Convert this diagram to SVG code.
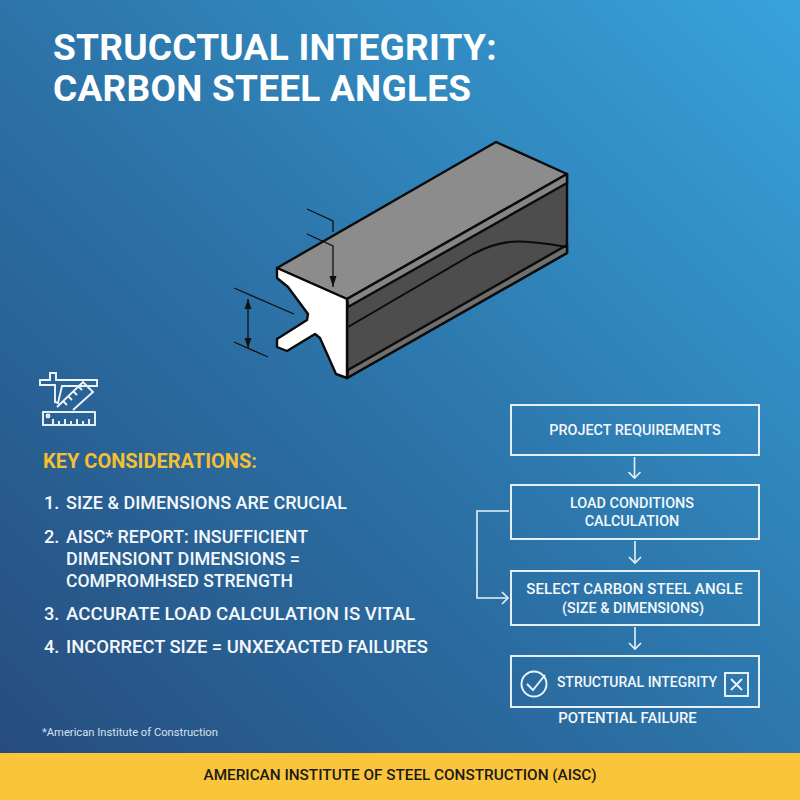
<svg xmlns="http://www.w3.org/2000/svg" width="800" height="800" viewBox="0 0 800 800">
<style>
text{font-family:Roboto,"Liberation Sans",sans-serif;font-weight:500;fill:#f4f8fb}
.t{font-size:37px;font-weight:700;letter-spacing:.25px;fill:#fff}
.k{font-size:18.2px}
.f{font-size:14.4px;text-anchor:middle}
.box{fill:none;stroke:#e4eff6;stroke-width:2}
.con{fill:none;stroke:#e8f1f7;stroke-width:1.6}
.b{stroke:#0b0b0b;stroke-width:2.4;stroke-linejoin:round}
.d{fill:none;stroke:#111;stroke-width:1.3}
.i{fill:none;stroke:#eef5fa;stroke-width:1.9}
</style>
<defs>
<linearGradient id="bg" gradientUnits="userSpaceOnUse" x1="0" y1="800" x2="800" y2="0">
<stop offset="0" stop-color="#264a7b"/><stop offset=".5" stop-color="#2c74a9"/><stop offset="1" stop-color="#38a3dc"/>
</linearGradient>
<marker id="a" viewBox="0 0 14 14" refX="12" refY="7" markerWidth="14" markerHeight="14" markerUnits="userSpaceOnUse" orient="auto"><path d="M6 1L12 7L6 13" fill="none" stroke="#e8f1f7" stroke-width="1.6"/></marker>
<marker id="k" viewBox="0 0 10 10" refX="10" refY="5" markerWidth="10" markerHeight="10" markerUnits="userSpaceOnUse" orient="auto"><path d="M0 1.500L10 5L0 8.500Z" fill="#111"/></marker>
<marker id="ks" viewBox="0 0 10 10" refX="0" refY="5" markerWidth="10" markerHeight="10" markerUnits="userSpaceOnUse" orient="auto"><path d="M10 1.500L0 5L10 8.500Z" fill="#111"/></marker>
</defs>
<rect width="800" height="800" fill="url(#bg)"/>
<text class="t" x="53" y="60">STRUCCTUAL INTEGRITY:</text>
<text class="t" x="53" y="101">CARBON STEEL ANGLES</text>

<g id="steel-angle">
<path class="b" d="M347 299L567 174V253L347 378Z" fill="#4d4d4d"/>
<path class="b" d="M277 268L496 142L567 174L347 299Z" fill="#8c8c8c"/>
<path class="b" fill="#858585" d="M347 299L567 174V183L348 307Z"/>
<path class="b" fill="#6f6f6f" d="M348 370L567 245V253L347 378Z"/>
<path fill="none" stroke="#0b0b0b" stroke-width="2" d="M348 327L473 254C490 245 505 241 520 241.500C540 242 555 245 567 247"/>
<path class="b" fill="#fff" d="M277 268L347 299V378L336 374L320 338L315 334L287 351L277 347V339L307 320L308 314L288 287L277 278Z"/>
<path class="d" d="M307 209L333 221V232M307 234L333 246V287"/>
<path d="M333 287L329.500 276H336.500Z" fill="#111"/>
<path class="d" d="M234 288L294 314M234 342L268 357"/>
<path class="d" d="M248 299V348" marker-start="url(#ks)" marker-end="url(#k)"/>
</g>

<g id="tool-icon" class="i">
<path d="M40 380H50V373H56V380H97V386H62L58 403L55 402V385H40Z"/>
<path d="M57 407L83 382L93 392L73 410"/>
<path d="M63 401L67 405M68 396L72 400M73 391L77 395M78 386L82 390"/>
<rect x="43" y="412" width="52" height="13"/>
<circle cx="48" cy="416" r="1.500"/>
<path d="M53 424V419M59 424V421M65 424V419M71 424V421M77 424V419M83 424V421M89 424V419"/>
</g>

<g id="considerations">
<text x="43" y="468" style="font-size:20px;font-weight:700;fill:#f5bf33">KEY CONSIDERATIONS:</text>
<text class="k" x="44" y="509">1.</text><text class="k" x="66" y="509" textLength="281" lengthAdjust="spacingAndGlyphs">SIZE &amp; DIMENSIONS ARE CRUCIAL</text>
<text class="k" x="44" y="543">2.</text><text class="k" x="66" y="543" textLength="242" lengthAdjust="spacingAndGlyphs">AISC* REPORT: INSUFFICIENT</text>
<text class="k" x="66" y="565" textLength="234" lengthAdjust="spacingAndGlyphs">DIMENSIONT DIMENSIONS =</text>
<text class="k" x="66" y="587" textLength="227" lengthAdjust="spacingAndGlyphs">COMPROMHSED STRENGTH</text>
<text class="k" x="44" y="620">3.</text><text class="k" x="66" y="620" textLength="349" lengthAdjust="spacingAndGlyphs">ACCURATE LOAD CALCULATION IS VITAL</text>
<text class="k" x="44" y="653">4.</text><text class="k" x="66" y="653" textLength="362" lengthAdjust="spacingAndGlyphs">INCORRECT SIZE = UNXEXACTED FAILURES</text>
<text x="42" y="736" style="font-size:11.2px;font-weight:400;fill:#d6e2ec">*American Institute of Construction</text>
</g>

<g id="connectors" class="con">
<path d="M634.500 457V478" marker-end="url(#a)"/>
<path d="M635 541V563" marker-end="url(#a)"/>
<path d="M635 627V649" marker-end="url(#a)"/>
<path d="M509 511H477V598H508" marker-end="url(#a)"/>
</g>
<g id="n1"><rect class="box" x="511" y="405" width="248" height="50"/><text class="f" x="635" y="435">PROJECT REQUIREMENTS</text></g>
<g id="n2"><rect class="box" x="511" y="485" width="248" height="54"/><text class="f" x="632" y="508">LOAD CONDITIONS</text><text class="f" x="632" y="526">CALCULATION</text></g>
<g id="n3"><rect class="box" x="511" y="571" width="248" height="54"/><text class="f" x="634.500" y="594" style="font-size:15px;letter-spacing:.1px">SELECT CARBON STEEL ANGLE</text><text class="f" x="633" y="613">(SIZE &amp; DIMENSIONS)</text></g>
<g id="n4"><rect class="box" x="511" y="656" width="248" height="51"/>
<text class="f" x="637" y="687" style="font-size:14px">STRUCTURAL INTEGRITY</text>
<circle class="i" cx="534" cy="684" r="12.500"/><path class="i" d="M527 684L533 690L545 675"/>
<rect class="i" x="725" y="673" width="23" height="23"/><path class="i" d="M731 679L742 690M742 679L731 690"/>
</g>
<text x="627.500" y="723" class="f" style="font-size:14.900px">POTENTIAL FAILURE</text>

<g id="footer">
<rect y="753" width="800" height="47" fill="#fbc53b"/>
<text x="400" y="780" style="font-size:15.300px;text-anchor:middle;fill:#1a1a1a">AMERICAN INSTITUTE OF STEEL CONSTRUCTION (AISC)</text>
</g>
</svg>
